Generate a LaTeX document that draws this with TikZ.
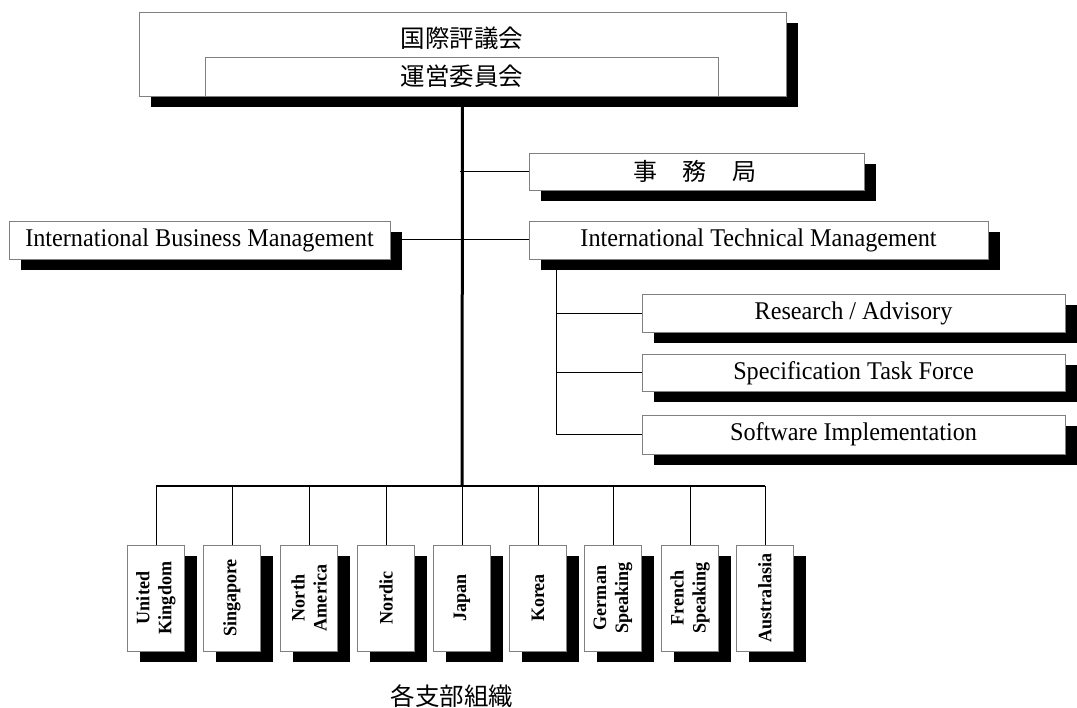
\documentclass[tikz,border=0pt]{standalone}
\usepackage{fontspec}
\setmainfont{Liberation Serif}[FakeStretch=0.95]
\newfontfamily\jp{Noto Sans CJK JP}
\usetikzlibrary{shadows}
\pgfdeclarelayer{background}
\pgfsetlayers{background,main}
\begin{document}
\begin{tikzpicture}[x=1pt,y=-1pt,
  box/.style={draw=gray,line width=0.9pt,fill=white,inner sep=0pt,
    drop shadow={shadow xshift=12pt,shadow yshift=-11pt,opacity=1,fill=black}},
  plainbox/.style={draw=gray,line width=0.9pt,fill=white,inner sep=0pt},
  lat/.style={font=\fontsize{25.5}{28}\selectfont},
  jpt/.style={font=\jp\fontsize{24.5}{28}\selectfont},
  reg/.style={font=\bfseries\fontsize{19}{22}\selectfont,rotate=90,align=center,inner sep=0pt},
  conn/.style={line width=1pt,black},
  trunk/.style={line width=3pt,black},
  busline/.style={line width=1.6pt,black}]
\useasboundingbox (0,0) rectangle (1077,708);

% top council box
\node[box,minimum width=647pt,minimum height=84pt] (council) at (462.5,54) {};
\node[plainbox,minimum width=513pt,minimum height=39pt] (steer) at (461.5,76.5) {};
\node[jpt] (councilt) at (462,38) {国際評議会};
\node[jpt] (steert) at (462,76.5) {運営委員会};

% secretariat
\node[box,minimum width=335pt,minimum height=37pt] (jimu) at (696.5,171.5) {};
\node[jpt,font=\jp\fontsize{24}{28}\selectfont] (jimut) at (695,171) {事\hspace{26pt}務\hspace{26pt}局};

% management boxes
\node[box,lat,minimum width=381pt,minimum height=38pt] (ibm) at (199.5,240) {International Business Management};
\node[box,lat,minimum width=459pt,minimum height=38pt] (itm) at (758.5,240) {International Technical Management};

\node[box,lat,minimum width=423pt,minimum height=38pt] (res) at (853.5,313.5) {Research / Advisory};
\node[box,lat,minimum width=423pt,minimum height=37pt] (spec) at (853.5,373) {Specification Task Force};
\node[box,lat,minimum width=423pt,minimum height=39pt] (soft) at (853.5,434.5) {Software Implementation};

% regional boxes
\foreach \n/\x/\t in {b1/156/{United\\Kingdom},b2/232/{Singapore},b3/309/{North\\America},
  b4/386/{Nordic},b5/462/{Japan},b6/538/{Korea},b7/613/{German\\Speaking},
  b8/690/{French\\Speaking},b9/765/{Australasia}}{
  \node[box,minimum width=57pt,minimum height=106pt] (\n) at (\x,598) {};
  \node[reg] (\n t) at (\n.center) {\t};
}

\node[jpt] (branches) at (452,696) {各支部組織};

\coordinate (bus) at (462,486);
\coordinate (itmb) at ([xshift=28pt]itm.south west);

\begin{pgfonlayer}{background}
  \draw[trunk] (council.south) -- (bus);
  \draw[busline] (b1.north |- bus) -- (b9.north |- bus);
  \foreach \n in {b1,b2,b3,b4,b5,b6,b7,b8,b9}{
    \draw[conn] (\n.north) -- (\n.north |- bus);
  }
  \draw[conn] (jimu.west) -- ([xshift=-3pt]jimu.west -| council.south);
  \draw[conn] (ibm.east) -- (itm.west);
  \draw[conn] (itmb) |- (res.west);
  \draw[conn] (itmb) |- (spec.west);
  \draw[conn] (itmb) |- (soft.west);
\end{pgfonlayer}
\end{tikzpicture}
\end{document}
